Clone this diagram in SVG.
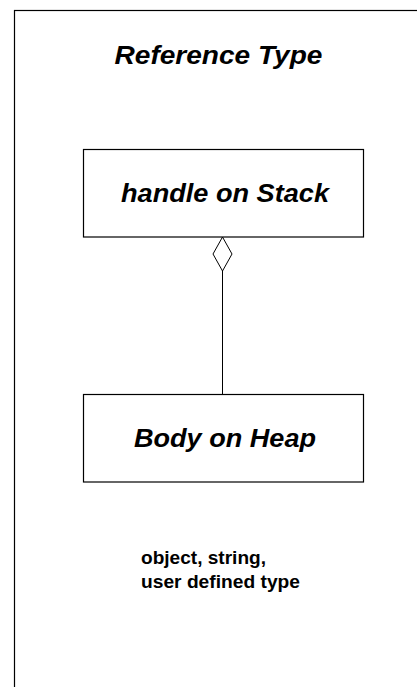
<svg xmlns="http://www.w3.org/2000/svg" width="417" height="687" viewBox="0 0 417 687">
<style>
.box{fill:#fff;stroke:#000;stroke-width:1.2}
.t{font-family:"Liberation Sans",Arial,sans-serif;font-weight:bold;font-style:italic;font-size:25px;text-anchor:middle}
.n{font-family:"Liberation Sans",Arial,sans-serif;font-weight:bold;font-size:18px}
</style>
<rect x="14.5" y="10.5" width="420" height="690" fill="#fff" stroke="#000" stroke-width="1.2"/>
<text class="t" x="218.5" y="64" textLength="208" lengthAdjust="spacingAndGlyphs">Reference Type</text>
<g id="connectors">
<line x1="222.5" y1="271" x2="222.5" y2="394" stroke="#000" stroke-width="1"/>
<polygon points="222.5,237 232,254 222.5,271 213,254" fill="#fff" stroke="#000" stroke-width="1"/>
</g>
<g id="handle">
<rect class="box" x="83.5" y="149.5" width="280" height="87.5"/>
<text class="t" x="225" y="201.5" textLength="208" lengthAdjust="spacingAndGlyphs">handle on Stack</text>
</g>
<g id="body">
<rect class="box" x="83.5" y="394.5" width="280" height="87.5"/>
<text class="t" x="225" y="446.5" textLength="182" lengthAdjust="spacingAndGlyphs">Body on Heap</text>
</g>
<g id="note">
<text class="n" x="141" y="564" textLength="125" lengthAdjust="spacingAndGlyphs">object, string,</text>
<text class="n" x="141" y="588" textLength="159" lengthAdjust="spacingAndGlyphs">user defined type</text>
</g>
</svg>
